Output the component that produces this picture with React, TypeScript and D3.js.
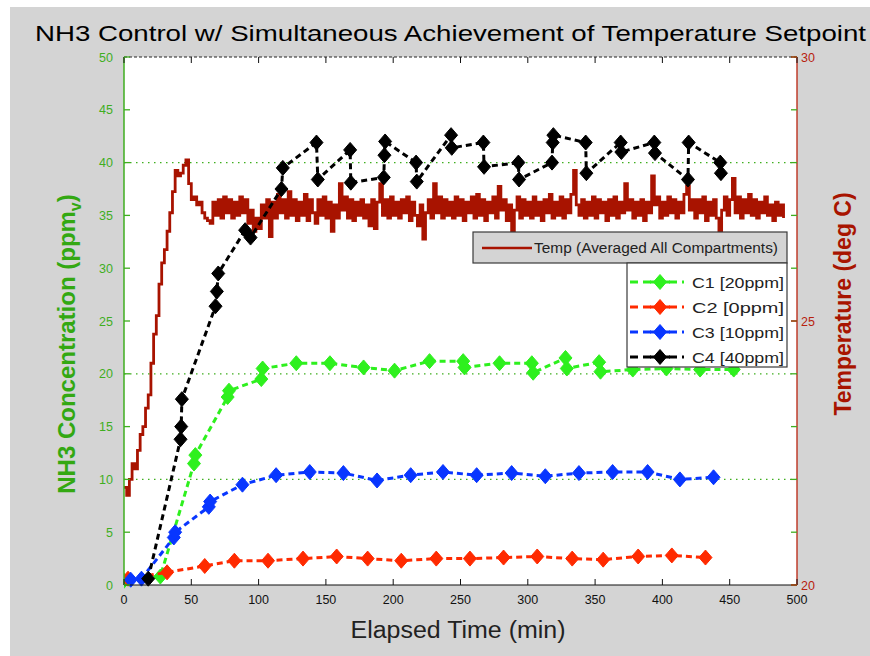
import React from "react";
import * as d3 from "d3";

// ---- data ----
const xTicks = [0, 50, 100, 150, 200, 250, 300, 350, 400, 450, 500];
const yLeftTicks = [0, 5, 10, 15, 20, 25, 30, 35, 40, 45, 50];
const yRightTicks = [20, 25, 30];
const setpointLevels = [10, 20, 40];

// Averaged compartment temperature (deg C), one reading every 2 minutes from t = 0
const tempStep = 2;
const tempValues = [
  // warm-up, t = 0..62
  21.85, 21.7, 22.0, 22.3, 22.2, 22.55, 22.85, 23.0, 23.35, 23.6,
  24.2, 24.75, 25.1, 25.7, 26.1, 26.35, 26.7, 27.05, 27.45, 27.85,
  27.75, 27.8, 27.95, 28.05, 27.6, 27.3, 27.35, 27.2, 27.25, 27.05,
  26.95, 26.9,
  // holding at setpoint, t = 64..490
  26.85, 27.25, 27.0, 27.3, 26.95, 27.35, 27.05, 27.3, 26.95, 27.25,
  27.0, 27.35, 27.05, 27.3, 26.85, 27.1, 26.7, 26.95, 26.75, 27.2,
  26.95, 27.3, 26.6, 27.25, 26.95, 27.4, 27.05, 27.3, 26.95, 27.45,
  27.0, 27.3, 26.9, 27.25, 27.0, 27.4, 26.9, 27.3, 27.05, 26.85,
  27.3, 27.0, 27.35, 26.95, 27.25, 26.7, 27.2, 26.95, 27.6, 27.1,
  27.35, 26.95, 27.3, 26.9, 27.25, 27.0, 27.3, 26.95, 27.2, 26.8,
  27.3, 26.75, 27.25, 27.6, 27.0, 27.3, 26.95, 27.35, 27.0, 27.25,
  26.95, 27.3, 27.05, 27.35, 26.9, 27.25, 27.0, 26.8, 27.2, 26.55,
  27.05, 27.3, 26.95, 27.6, 27.05, 27.35, 26.95, 27.3, 27.0, 27.25,
  26.95, 27.35, 27.0, 27.3, 26.9, 27.25, 27.05, 27.35, 26.95, 27.4,
  27.0, 27.3, 26.9, 27.25, 27.05, 27.35, 26.95, 27.55, 27.1, 27.3,
  26.9, 27.2, 26.65, 27.1, 27.35, 26.95, 27.3, 27.0, 27.25, 26.95,
  27.35, 27.0, 27.25, 26.9, 27.3, 27.05, 27.4, 26.95, 27.25, 27.0,
  27.35, 26.95, 27.3, 27.05, 27.4, 27.85, 27.2, 27.0, 27.3, 26.95,
  27.25, 27.0, 27.35, 26.95, 27.3, 27.05, 27.25, 26.9, 27.3, 27.0,
  27.35, 26.95, 27.25, 27.05, 27.6, 27.1, 27.3, 26.95, 27.25, 27.0,
  27.3, 26.9, 27.25, 27.05, 27.75, 27.2, 27.35, 26.95, 27.25, 27.0,
  27.35, 27.05, 27.3, 26.95, 27.25, 27.05, 27.4, 27.55, 27.1, 27.3,
  26.95, 27.3, 27.05, 27.35, 26.9, 27.25, 27.0, 27.3, 26.95, 26.55,
  27.1, 27.35, 27.0, 27.3, 27.7, 27.05, 27.35, 26.95, 27.3, 27.05,
  27.4, 27.0, 27.3, 26.95, 27.25, 27.05, 27.35, 27.0, 27.2, 26.9,
  27.25, 27.0, 27.2, 26.95,
];

// NH3 concentration per compartment (ppmv)
const c1Times = [0, 27, 52, 53, 77, 78, 102, 103, 128, 153, 178, 201, 227, 252, 253, 279, 303, 304, 328, 329, 353, 354, 378, 403, 428, 453];
const c1Values = [0.4, 0.8, 11.5, 12.3, 17.8, 18.4, 19.5, 20.5, 21.0, 21.0, 20.6, 20.3, 21.2, 21.2, 20.6, 21.0, 21.0, 20.1, 21.5, 20.5, 21.1, 20.2, 20.4, 20.5, 20.4, 20.4];

const c2Times = [3, 32, 60, 82, 107, 133, 158, 181, 206, 232, 257, 282, 307, 333, 356, 382, 407, 432];
const c2Values = [0.6, 1.2, 1.8, 2.3, 2.3, 2.5, 2.7, 2.5, 2.3, 2.5, 2.5, 2.6, 2.7, 2.5, 2.4, 2.7, 2.8, 2.6];

const c3Times = [5, 13, 37, 38, 63, 64, 88, 113, 138, 163, 188, 213, 237, 262, 288, 313, 338, 363, 389, 413, 438];
const c3Values = [0.5, 0.6, 4.5, 5.0, 7.4, 7.9, 9.5, 10.4, 10.7, 10.6, 9.9, 10.4, 10.7, 10.4, 10.6, 10.3, 10.6, 10.7, 10.7, 10.0, 10.2];

const c4Times = [18, 42, 42.5, 43, 68, 69, 70, 90, 94, 117, 118, 143, 144, 168, 168.5, 193, 193.5, 194, 217, 217.5, 243, 243.5, 267, 267.5, 293, 293.5, 318, 318.5, 319, 343, 343.5, 369, 369.5, 394, 394.5, 419, 419.5, 443, 443.5];
const c4Values = [0.6, 13.8, 15.0, 17.6, 26.4, 27.8, 29.5, 33.6, 32.9, 37.5, 39.5, 41.9, 38.4, 41.2, 38.1, 38.6, 40.7, 42.0, 40.0, 38.2, 42.6, 41.4, 41.9, 39.6, 40.0, 38.4, 40.0, 41.9, 42.6, 41.9, 39.0, 41.9, 41.0, 41.9, 40.9, 38.4, 41.9, 40.0, 39.0];

const seriesNames = ["C1 [20ppm]", "C2 [0ppm]", "C3 [10ppm]", "C4 [40ppm]"];
const seriesColors = ["#2ef01e", "#ff2a00", "#0836ff", "#000000"];
const seriesTimes = [c1Times, c2Times, c3Times, c4Times];
const seriesValues = [c1Values, c2Values, c3Values, c4Values];

const tempLabel = "Temp (Averaged All Compartments)";

// ---- layout ----
const W = 870;
const H = 656;
const plot = { left: 124, right: 797, top: 57, bottom: 585 };
const FONT = "'Liberation Sans', Arial, sans-serif";
const GREEN_AXIS = "#3fae1f";
const RED_AXIS = "#b8220e";
const TEMP_COLOR = "#a81300";
const BG = "#d4d4d4";

const diamond = "M0,-7.5L6.5,0L0,7.5L-6.5,0Z";

export default function App() {
  const x = d3.scaleLinear().domain([0, 500]).range([plot.left, plot.right]);
  const yL = d3.scaleLinear().domain([0, 50]).range([plot.bottom, plot.top]);
  const yR = d3.scaleLinear().domain([20, 30]).range([plot.bottom, plot.top]);

  const tempLine = d3
    .line<number>()
    .x((_, i) => x(i * tempStep))
    .y((d) => yR(d))
    .curve(d3.curveStepAfter);

  const concLine = d3
    .line<[number, number]>()
    .x((d) => x(d[0]))
    .y((d) => yL(d[1]));

  const series = seriesNames.map((name, k) => ({
    name,
    color: seriesColors[k],
    pts: seriesTimes[k].map((t, i) => [t, seriesValues[k][i]] as [number, number]),
  }));

  const tick = 6;

  return (
    <svg
      width={W}
      height={H}
      style={{ position: "absolute", left: 0, top: 0, display: "block" }}
      fontFamily={FONT}
    >
      <rect x={0} y={0} width={W} height={H} fill="#ffffff" />
      <rect x={10} y={7} width={W - 10} height={H - 7} fill={BG} />

      {/* title */}
      <text x={35} y={41} fontSize={22} fill="#000" textLength={831} lengthAdjust="spacingAndGlyphs">
        NH3 Control w/ Simultaneous Achievement of Temperature Setpoint
      </text>

      {/* plot background */}
      <rect
        x={plot.left}
        y={plot.top}
        width={plot.right - plot.left}
        height={plot.bottom - plot.top}
        fill="#ffffff"
      />

      <defs>
        <clipPath id="plotClip">
          <rect
            x={plot.left}
            y={plot.top - 8}
            width={plot.right - plot.left}
            height={plot.bottom - plot.top + 16}
          />
        </clipPath>
      </defs>

      {/* setpoint reference lines */}
      {setpointLevels.map((v) => (
        <line
          key={v}
          x1={plot.left}
          x2={plot.right}
          y1={yL(v)}
          y2={yL(v)}
          stroke={GREEN_AXIS}
          strokeWidth={1.3}
          strokeDasharray="1.5,4.5"
        />
      ))}

      {/* temperature trace */}
      <g clipPath="url(#plotClip)">
        <path d={tempLine(tempValues) || ""} fill="none" stroke={TEMP_COLOR} strokeWidth={2.8} />
      </g>

      {/* concentration series */}
      <g clipPath="url(#plotClip)">
        {series.map((s) => (
          <g key={s.name}>
            <path
              d={concLine(s.pts) || ""}
              fill="none"
              stroke={s.color}
              strokeWidth={3}
              strokeDasharray="6,4"
            />
            {s.pts.map((p, i) => (
              <path
                key={i}
                d={diamond}
                transform={`translate(${x(p[0])},${yL(p[1])})`}
                fill={s.color}
                stroke={s.color}
                strokeWidth={1}
              />
            ))}
          </g>
        ))}
      </g>

      {/* frame */}
      <line x1={plot.left} x2={plot.right} y1={plot.top} y2={plot.top} stroke="#222" strokeWidth={1} strokeDasharray="3,2" />
      <line x1={plot.left} x2={plot.right} y1={plot.bottom} y2={plot.bottom} stroke="#111" strokeWidth={1.2} />
      <line x1={plot.left} x2={plot.left} y1={plot.top} y2={plot.bottom} stroke={GREEN_AXIS} strokeWidth={1.5} />
      <line x1={plot.right} x2={plot.right} y1={plot.top} y2={plot.bottom} stroke={RED_AXIS} strokeWidth={1.3} />

      {/* x axis */}
      {xTicks.map((t) => (
        <g key={t}>
          <line x1={x(t)} x2={x(t)} y1={plot.bottom} y2={plot.bottom - tick} stroke="#111" />
          <line x1={x(t)} x2={x(t)} y1={plot.top} y2={plot.top + tick} stroke="#111" />
          <text x={x(t)} y={plot.bottom + 19} fontSize={12.5} fill="#111" textAnchor="middle">
            {t}
          </text>
        </g>
      ))}
      <text x={458} y={638} fontSize={23} fill="#222" textAnchor="middle" textLength={215} lengthAdjust="spacingAndGlyphs">
        Elapsed Time (min)
      </text>

      {/* left axis (NH3) */}
      {yLeftTicks.map((v) => (
        <g key={v}>
          <line x1={plot.left} x2={plot.left + tick} y1={yL(v)} y2={yL(v)} stroke={GREEN_AXIS} strokeWidth={1.3} />
          <line x1={plot.right - tick} x2={plot.right} y1={yL(v)} y2={yL(v)} stroke={GREEN_AXIS} strokeWidth={1.3} />
          <text x={plot.left - 11} y={yL(v) + 4.5} fontSize={12.5} fill={GREEN_AXIS} textAnchor="end">
            {v}
          </text>
        </g>
      ))}
      <text
        transform={`translate(75,${344}) rotate(-90)`}
        fontSize={24}
        fontWeight="bold"
        fill="#33a812"
        textAnchor="middle"
      >
        NH3 Concentration (ppm
        <tspan fontSize={16} dy={6}>v</tspan>
        <tspan dy={-6}>)</tspan>
      </text>

      {/* right axis (temperature) */}
      {yRightTicks.map((v) => (
        <g key={v}>
          <line x1={plot.right - tick} x2={plot.right} y1={yR(v)} y2={yR(v)} stroke={RED_AXIS} strokeWidth={1.3} />
          <text x={plot.right + 4} y={yR(v) + 4.5} fontSize={12.5} fill={RED_AXIS} textAnchor="start">
            {v}
          </text>
        </g>
      ))}
      <text
        transform={`translate(851,${304}) rotate(-90)`}
        fontSize={23}
        fontWeight="bold"
        fill="#a81400"
        textAnchor="middle"
      >
        Temperature (deg C)
      </text>

      {/* temperature legend */}
      <rect x={473} y={232} width={314} height={31} fill={BG} stroke="#3a3a3a" strokeWidth={1.2} />
      <line x1={482} x2={532} y1={248} y2={248} stroke={TEMP_COLOR} strokeWidth={2.6} />
      <text x={534} y={253} fontSize={14} fill="#222" textLength={244} lengthAdjust="spacingAndGlyphs">
        {tempLabel}
      </text>

      {/* concentration legend */}
      <rect x={627} y={263} width={160} height={104} fill="#ffffff" stroke="#3a3a3a" strokeWidth={1.2} />
      {series.map((s, k) => {
        const yy = 282 + k * 25;
        return (
          <g key={s.name}>
            <line x1={630} x2={684} y1={yy} y2={yy} stroke={s.color} strokeWidth={3} strokeDasharray="8,5" />
            <line x1={650} x2={670} y1={yy} y2={yy} stroke={s.color} strokeWidth={3} />
            <path d={diamond} transform={`translate(660,${yy})`} fill={s.color} stroke={s.color} />
            <text x={692} y={yy + 5.5} fontSize={15} fill="#222" textLength={92} lengthAdjust="spacingAndGlyphs">
              {s.name}
            </text>
          </g>
        );
      })}
    </svg>
  );
}
